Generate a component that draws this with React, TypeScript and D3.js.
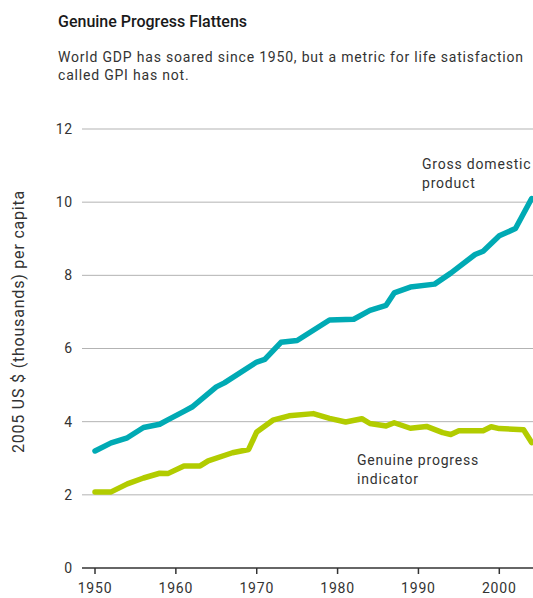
import React from "react";
import * as d3 from "d3";

const gdpYears = [1950, 1952, 1954, 1956, 1958, 1959, 1961, 1962, 1965, 1966, 1970, 1971, 1973, 1975, 1979, 1982, 1984, 1986, 1987, 1989, 1992, 1994, 1997, 1998, 2000, 2002, 2004];
const gdpValues = [3.2, 3.42, 3.56, 3.84, 3.93, 4.05, 4.28, 4.4, 4.95, 5.06, 5.63, 5.7, 6.17, 6.22, 6.78, 6.8, 7.04, 7.18, 7.52, 7.68, 7.76, 8.06, 8.57, 8.66, 9.08, 9.28, 10.1];

const gpiYears = [1950, 1952, 1954, 1956, 1958, 1959, 1961, 1963, 1964, 1967, 1969, 1970, 1972, 1974, 1977, 1979, 1981, 1983, 1984, 1986, 1987, 1989, 1991, 1993, 1994, 1995, 1998, 1999, 2000, 2003, 2004];
const gpiValues = [2.08, 2.08, 2.3, 2.46, 2.59, 2.58, 2.79, 2.79, 2.93, 3.15, 3.24, 3.72, 4.04, 4.16, 4.22, 4.09, 3.99, 4.08, 3.95, 3.88, 3.97, 3.82, 3.87, 3.7, 3.65, 3.75, 3.75, 3.86, 3.81, 3.78, 3.43];

const yTicks = [0, 2, 4, 6, 8, 10, 12];
const xTicks = [1950, 1960, 1970, 1980, 1990, 2000];

const title = "Genuine Progress Flattens";
const subtitle = ["World GDP has soared since 1950, but a metric for life satisfaction", "called GPI has not."];
const yLabel = "2005 US $ (thousands) per capita";

export default function App() {
  const W = 533, H = 598;
  const left = 82, right = 533;
  const x = d3.scaleLinear().domain([1950, 2000]).range([95, 499.3]);
  const y = d3.scaleLinear().domain([0, 12]).range([568, 129]);
  const line = d3.line<[number, number]>().x(d => x(d[0])).y(d => y(d[1]));
  const gdp = gdpYears.map((yr, i) => [yr, gdpValues[i]] as [number, number]);
  const gpi = gpiYears.map((yr, i) => [yr, gpiValues[i]] as [number, number]);
  const font = "Roboto, 'DejaVu Sans', sans-serif";
  const ls = 0.8;
  return (
    <svg width={W} height={H} style={{ position: "absolute", left: 0, top: 0, background: "#fff" }} fontFamily={font}>
      <text x={58} y={27} fontSize={16} fontWeight={500} fill="#1a1a1a">{title}</text>
      {subtitle.map((s, i) => (
        <text key={i} x={58} y={62 + i * 18} fontSize={14} letterSpacing={ls} fill="#333">{s}</text>
      ))}
      {yTicks.filter(t => t > 0).map(t => (
        <line key={t} x1={left} x2={right} y1={y(t)} y2={y(t)} stroke="#b3b3b3" strokeWidth={1} />
      ))}
      {yTicks.map(t => (
        <text key={t} x={73} y={y(t)} dy="0.35em" textAnchor="end" fontSize={14} letterSpacing={ls} fill="#333">{t}</text>
      ))}
      <line x1={left} x2={right} y1={y(0)} y2={y(0)} stroke="#333" strokeWidth={1.5} />
      {xTicks.map(t => (
        <g key={t}>
          <line x1={x(t)} x2={x(t)} y1={y(0)} y2={y(0) + 6} stroke="#333" strokeWidth={1.5} />
          <text x={x(t)} y={593} textAnchor="middle" fontSize={14} letterSpacing={ls} fill="#333">{t}</text>
        </g>
      ))}
      <text transform={`translate(24, ${y(6) - 27}) rotate(-90)`} textAnchor="middle" fontSize={16} letterSpacing={ls} fill="#333">{yLabel}</text>
      <path d={line(gpi) || ""} fill="none" stroke="#b2cc00" strokeWidth={5.5} strokeLinejoin="round" strokeLinecap="round" />
      <path d={line(gdp) || ""} fill="none" stroke="#00aab4" strokeWidth={5.5} strokeLinejoin="round" strokeLinecap="round" />
      <text x={422} y={169} fontSize={14} letterSpacing={ls} fill="#333">Gross domestic</text>
      <text x={422} y={188} fontSize={14} letterSpacing={ls} fill="#333">product</text>
      <text x={357} y={465} fontSize={14} letterSpacing={ls} fill="#333">Genuine progress</text>
      <text x={357} y={484} fontSize={14} letterSpacing={ls} fill="#333">indicator</text>
    </svg>
  );
}
